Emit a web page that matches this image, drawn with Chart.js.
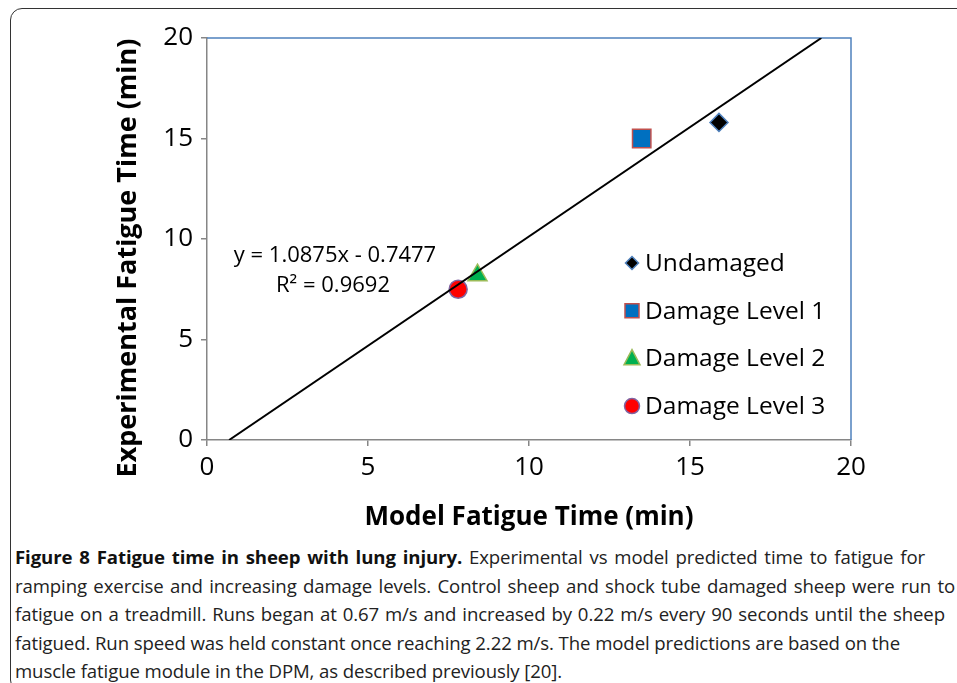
<!DOCTYPE html>
<html>
<head>
<meta charset="utf-8">
<script src="https://cdn.jsdelivr.net/npm/chart.js@4.4.0/dist/chart.umd.min.js"></script>
<style>
  html, body { margin: 0; padding: 0; background: #fff; width: 957px; height: 683px; overflow: hidden; }
  .frame { position: absolute; left: 10px; top: 8px; width: 1000px; height: 682px; border: 1.5px solid #333; border-radius: 12px; }
  .plot { position: absolute; left: 0; top: 0; width: 957px; height: 540px; }
  .caption { position: absolute; left: 15px; top: 543px; font-family: "Open Sans", sans-serif; font-size: 18.6px; line-height: 28.5px; color: #222; white-space: nowrap; letter-spacing: -0.1px; }
  .caption div { text-align: justify; text-align-last: justify; }
  .caption div.last { text-align-last: left; }
  .caption b { color: #111; }
</style>
</head>
<body>
<div class="frame"></div>
<div class="plot"><canvas id="myChart" width="957" height="540"></canvas></div>
<div class="caption">
  <div style="width:910px"><b>Figure 8 Fatigue time in sheep with lung injury.</b> Experimental vs model predicted time to fatigue for</div>
  <div style="width:940px">ramping exercise and increasing damage levels. Control sheep and shock tube damaged sheep were run to</div>
  <div style="width:930px">fatigue on a treadmill. Runs began at 0.67 m/s and increased by 0.22 m/s every 90 seconds until the sheep</div>
  <div style="width:885px">fatigued. Run speed was held constant once reaching 2.22 m/s. The model predictions are based on the</div>
  <div class="last">muscle fatigue module in the DPM, as described previously [20].</div>
</div>
<script>
const seriesNames = ["Undamaged", "Damage Level 1", "Damage Level 2", "Damage Level 3"];
const modelTime = [15.9, 13.5, 8.4, 7.8];
const experimentalTime = [15.8, 15.0, 8.2, 7.5];
const trendSlope = 1.0875;
const trendIntercept = -0.7477;
const rSquared = "0.9692";
const axisMin = 0;
const axisMax = 20;
const axisStep = 5;
const xTitle = "Model Fatigue Time (min)";
const yTitle = "Experimental Fatigue Time (min)";

const pointStyles = ["rectRot", "rect", "triangle", "circle"];
const fillColors = ["#000000", "#0070C0", "#00B050", "#FF0000"];
const edgeColors = ["#4F81BD", "#C0504D", "#9BBB59", "#8064A2"];
const pointSizes = [9, 13, 11, 9];

// trend line drawn between y = 0 and y = 20
const trendStart = (axisMin - trendIntercept) / trendSlope;
const trendEnd = (axisMax - trendIntercept) / trendSlope;

Chart.defaults.font.family = "'Open Sans', sans-serif";
Chart.defaults.color = "#000";

function drawMarker(ctx, style, x, y, r, fill, edge) {
  ctx.save();
  ctx.beginPath();
  if (style === "rectRot") {
    ctx.moveTo(x, y - r); ctx.lineTo(x + r, y); ctx.lineTo(x, y + r); ctx.lineTo(x - r, y);
  } else if (style === "rect") {
    ctx.rect(x - r, y - r, 2 * r, 2 * r);
  } else if (style === "triangle") {
    ctx.moveTo(x, y - r * 1.1); ctx.lineTo(x + r, y + r * 0.8); ctx.lineTo(x - r, y + r * 0.8);
  } else {
    ctx.arc(x, y, r, 0, Math.PI * 2);
  }
  ctx.closePath();
  ctx.fillStyle = fill;
  ctx.fill();
  ctx.lineWidth = 1.5;
  ctx.strokeStyle = edge;
  ctx.stroke();
  ctx.restore();
}

const extras = {
  id: "extras",
  beforeDatasetsDraw(chart) {
    const { ctx, chartArea } = chart;
    ctx.save();
    ctx.strokeStyle = "#4F81BD";
    ctx.lineWidth = 1.5;
    ctx.beginPath();
    ctx.moveTo(chartArea.left, chartArea.top);
    ctx.lineTo(chartArea.right, chartArea.top);
    ctx.lineTo(chartArea.right, chartArea.bottom);
    ctx.stroke();
    ctx.restore();
  },
  afterDraw(chart) {
    const { ctx } = chart;
    ctx.save();
    ctx.fillStyle = "#000";

    // y axis title, sits a bit below the middle of the axis
    ctx.save();
    ctx.translate(128, 258);
    ctx.rotate(-Math.PI / 2);
    ctx.font = "bold 27px 'Open Sans', sans-serif";
    ctx.textAlign = "center";
    ctx.textBaseline = "middle";
    ctx.fillText(yTitle, 0, 0);
    ctx.restore();

    // regression label
    ctx.font = "22px 'Open Sans', sans-serif";
    ctx.textAlign = "center";
    ctx.textBaseline = "middle";
    const sign = trendIntercept < 0 ? " - " : " + ";
    ctx.fillText("y = " + trendSlope.toFixed(4) + "x" + sign + Math.abs(trendIntercept).toFixed(4), 335, 256);
    ctx.fillText("R\u00B2 = " + rSquared, 333, 286);

    // legend
    ctx.font = "24.5px 'Open Sans', sans-serif";
    ctx.textAlign = "left";
    const legendSizes = [6.5, 7, 8, 7.5];
    seriesNames.forEach((name, i) => {
      const y = 263 + i * 47.7;
      drawMarker(ctx, pointStyles[i], 632, y, legendSizes[i], fillColors[i], edgeColors[i]);
      ctx.fillStyle = "#000";
      ctx.fillText(name, 645, y + 1);
    });
    ctx.restore();
  }
};

const datasets = seriesNames.map((name, i) => ({
  label: name,
  data: [{ x: modelTime[i], y: experimentalTime[i] }],
  pointStyle: pointStyles[i],
  pointRadius: pointSizes[i],
  pointBackgroundColor: fillColors[i],
  pointBorderColor: edgeColors[i],
  pointBorderWidth: 1.5,
  showLine: false,
}));

datasets.unshift({
  label: "Linear",
  data: [
    { x: trendStart, y: trendSlope * trendStart + trendIntercept },
    { x: trendEnd, y: trendSlope * trendEnd + trendIntercept },
  ],
  showLine: true,
  borderColor: "#000",
  borderWidth: 2,
  pointRadius: 0,
});

const axisCommon = {
  type: "linear",
  min: axisMin,
  max: axisMax,
  grid: { drawOnChartArea: false, tickLength: 6, color: "#868686", lineWidth: 1.5 },
  border: { color: "#868686", width: 1.5 },
};

const ctx = document.getElementById("myChart").getContext("2d");
new Chart(ctx, {
  type: "scatter",
  data: { datasets: datasets },
  options: {
    responsive: false,
    animation: false,
    layout: { padding: { top: 38, right: 106, left: 0, bottom: 0 } },
    plugins: { legend: { display: false }, tooltip: { enabled: false } },
    scales: {
      x: {
        ...axisCommon,
        position: "bottom",
        ticks: { stepSize: axisStep, padding: 6, font: { size: 26 }, color: "#000" },
        title: {
          display: true,
          text: xTitle,
          font: { size: 26, weight: "bold" },
          color: "#000",
          padding: { top: 0, bottom: 7 },
        },
        afterFit(axis) { axis.height = 100; },
      },
      y: {
        ...axisCommon,
        position: "left",
        ticks: { stepSize: axisStep, padding: 8, font: { size: 26 }, color: "#000" },
        afterFit(axis) { axis.width = 207; },
      },
    },
  },
  plugins: [extras],
});
</script>
</body>
</html>
